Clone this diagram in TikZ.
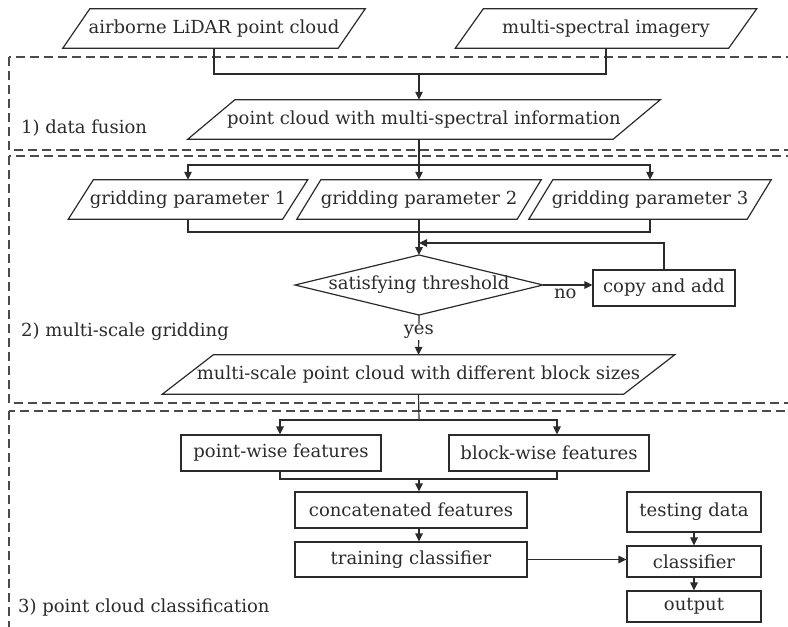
\documentclass[tikz,border=0pt]{standalone}
\usepackage{fontspec}
\setmainfont{DejaVu Serif}
\usetikzlibrary{arrows.meta}
\definecolor{ink}{HTML}{2B2B2B}
\newcommand\slantframe[2]{%
  \draw[frame] ([xshift=#2]#1.north west) -- ([xshift=#2]#1.north east)
    -- ([xshift=-#2]#1.south east) -- ([xshift=-#2]#1.south west) -- cycle;}
\begin{document}
\begin{tikzpicture}[x=1pt,y=-1pt,
  every node/.style={text=ink,font=\fontsize{18}{21}\selectfont},
  frame/.style={draw=ink,line width=1.2pt},
  box/.style={frame,rectangle,inner sep=0pt},
  txt/.style={rectangle,inner sep=0pt},
  link/.style={draw=ink,line width=1.2pt},
  arr/.style={link,-{Triangle[length=8pt,width=7.5pt]}},
  zone/.style={draw=ink!85,line width=1.2pt,dash pattern=on 9pt off 5pt},
  lbl/.style={anchor=west,inner sep=0pt}]
\useasboundingbox (0,0) rectangle (788,627);
\clip (0,0) rectangle (788,627);

% stage frames
\draw[zone] (9,57) rectangle (820,150);
\draw[zone] (9,156) rectangle (820,403);
\draw[zone] (9,411) rectangle (820,660);
\node[lbl] (l1) at (21,128) {1) data fusion};
\node[lbl] (l2) at (21,332) {2) multi-scale gridding};
\node[lbl] (l3) at (18,608) {3) point cloud classification};

% inputs and fusion
\node[txt,minimum width=275pt,minimum height=39pt] (air) at (214,28.5) {airborne LiDAR point cloud};
\node[txt,minimum width=273pt,minimum height=39pt] (msi) at (606,28.5) {multi-spectral imagery};
\node[txt,minimum width=425pt,minimum height=39pt] (pcm) at (424,119.5) {point cloud with multi-spectral information};
\slantframe{air}{13.5pt}
\slantframe{msi}{14pt}
\slantframe{pcm}{23.5pt}
\coordinate (j1) at (419,74);
\draw[link] (air.south) |- (j1) -| (msi.south);
\draw[arr] (j1) -- (j1 |- pcm.north);

% gridding
\node[txt,minimum width=214pt,minimum height=39pt] (g1) at (188,199.5) {gridding parameter 1};
\node[txt,minimum width=220pt,minimum height=39pt] (g2) at (419,199.5) {gridding parameter 2};
\node[txt,minimum width=218pt,minimum height=39pt] (g3) at (650,199.5) {gridding parameter 3};
\slantframe{g1}{12.5pt}
\slantframe{g2}{12pt}
\slantframe{g3}{12pt}
\coordinate (j2) at (419,165);
\draw[link] (j1 |- pcm.south) -- (j2);
\draw[arr] (j2) -| (g1.north);
\draw[arr] (j2) -- (g2.north);
\draw[arr] (j2) -| (g3.north);

\node[txt] (dec) at (419,285) {satisfying threshold};
\coordinate (dtop) at (419,255);
\coordinate (dbot) at (419,315);
\coordinate (dleft) at (295,285);
\coordinate (dright) at (543,285);
\draw[frame] (dtop) -- (dright) -- (dbot) -- (dleft) -- cycle;
\coordinate (j3) at (419,232);
\draw[link] (g1.south) |- (j3);
\draw[link] (g3.south) |- (j3);
\draw[arr] (g2.south) -- (dtop);

\node[box,minimum width=142pt,minimum height=36pt] (cpy) at (664,288) {copy and add};
\draw[arr] (dright) -- node[below,pos=0.45,inner sep=3pt] {no} (dright -| cpy.west);
\coordinate (j4) at (419,243);
\draw[arr] (cpy.north) |- (j4);

\node[txt,minimum width=461pt,minimum height=39pt] (ms) at (418.5,374.5) {multi-scale point cloud with different block sizes};
\slantframe{ms}{25.5pt}
\draw[arr] (dbot) -- node[fill=white,inner sep=1pt,pos=0.42] {yes} (ms.north);

% classification
\coordinate (j5) at (419,420);
\node[box,minimum width=200pt,minimum height=36pt] (pw) at (281,453) {point-wise features};
\node[box,minimum width=200pt,minimum height=36pt] (bw) at (549,453) {block-wise features};
\draw[link] (ms.south) -- (j5);
\draw[arr] (j5) -| ([xshift=-1pt]pw.north);
\draw[arr] (j5) -| ([xshift=8pt]bw.north);

\node[box,minimum width=232pt,minimum height=36pt] (cat) at (411,510) {concatenated features};
\node[box,minimum width=232pt,minimum height=35pt] (trn) at (411,559.5) {training classifier};
\coordinate (j6) at (419,479);
\draw[link] ([xshift=-1pt]pw.south) |- (j6);
\draw[link] ([xshift=8pt]bw.south) |- (j6);
\draw[arr] (j6) -- (j6 |- cat.north);
\draw[arr] (j6 |- cat.south) -- (j6 |- trn.north);

\node[box,minimum width=134pt,minimum height=40pt] (tst) at (694,512) {testing data};
\node[box,minimum width=134pt,minimum height=31pt] (cls) at (694,561.5) {classifier};
\node[box,minimum width=134pt,minimum height=31pt] (out) at (694,606.5) {output};
\draw[arr] (trn.east) -- (trn.east -| cls.west);
\draw[arr] (tst.south) -- (cls.north);
\draw[arr] (cls.south) -- (out.north);
\end{tikzpicture}
\end{document}
